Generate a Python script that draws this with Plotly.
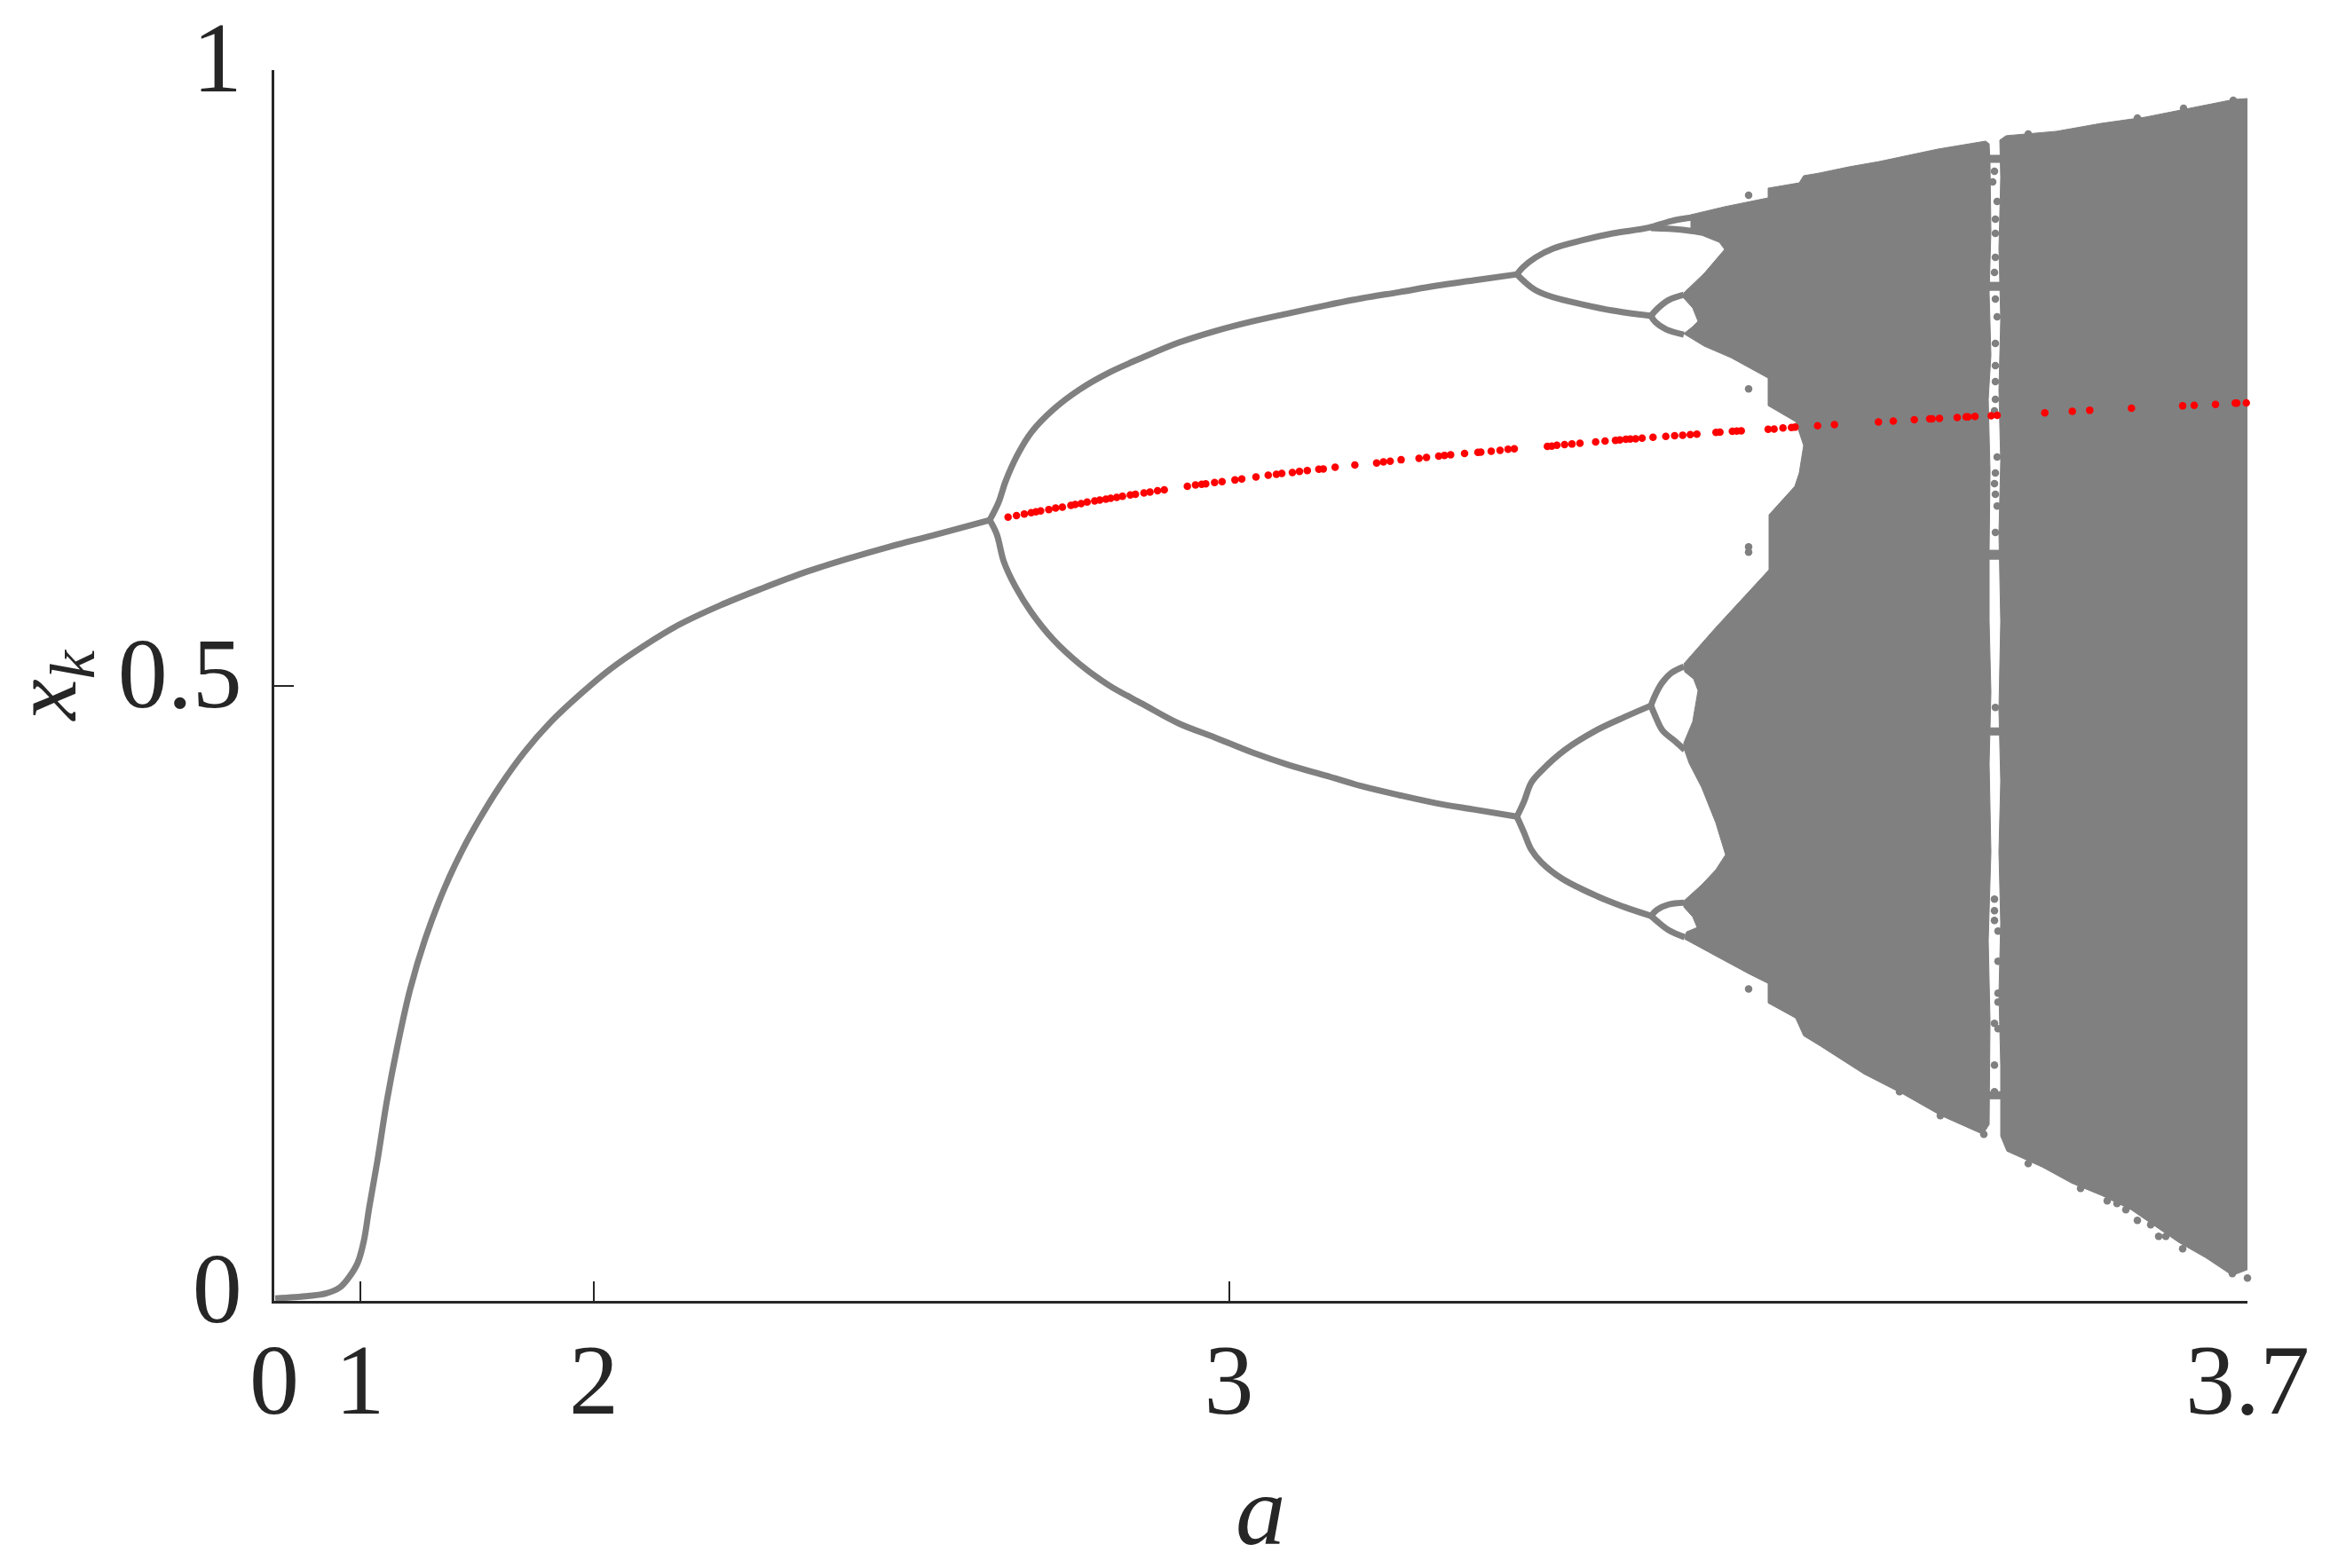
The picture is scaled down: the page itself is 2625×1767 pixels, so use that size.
import plotly.graph_objects as go

# Horizontal axis is warped in the source figure; u is the position along it.
tick_u = [0, 96.6, 360, 1075.5, 2223]
tick_a = ["0", "1", "2", "3", "3.7"]
tick_y = [0, 0.5, 1]
tick_y_text = ["0", "0.5", "1"]

main_u = [1, 38, 58, 74, 84, 94, 101, 107, 116, 127, 139, 153, 170, 191, 211, 230, 254, 282, 311, 345, 378, 416, 455, 502, 550, 598, 646, 694, 742, 806]
main_y = [.002, .004, .006, .011, .019, .031, .049, .076, .113, .163, .208, .253, .294, .334, .365, .390, .418, .446, .470, .493, .513, .532, .549, .565, .579, .592, .603, .613, .622, .6344]

arc_up_u = [806, 816, 824, 837, 853, 878, 907, 940, 978, 1019, 1060, 1102, 1143, 1185, 1226, 1268, 1309, 1351, 1400]
arc_up_y = [.6344, .6488, .6661, .6870, .7058, .7245, .7404, .7541, .7664, .7786, .7880, .7959, .8024, .8089, .8147, .8197, .8248, .8291, .8341]
arc_lo_u = [806, 814, 822, 835, 853, 878, 907, 940, 978, 1019, 1060, 1102, 1143, 1185, 1226, 1268, 1309, 1351, 1400]
arc_lo_y = [.6344, .6228, .6005, .5803, .5594, .5370, .5176, .5003, .4851, .4692, .4577, .4455, .4354, .4267, .4180, .4108, .4044, .3993, .3935]

p4a_u = [1400, 1407, 1421, 1441, 1474, 1508, 1548, 1574, 1598]
p4a_y = [.8341, .8399, .8478, .8551, .8618, .8673, .8719, .8774, .8803]
p4b_u = [1400, 1408, 1421, 1441, 1474, 1508, 1551]
p4b_y = [.8341, .8284, .8212, .8154, .8096, .8046, .8003]
p4c_u = [1400, 1408, 1416, 1428, 1454, 1491, 1521, 1551]
p4c_y = [.3935, .4058, .4209, .4310, .4476, .4642, .4743, .4837]
p4d_u = [1400, 1408, 1416, 1428, 1451, 1491, 1521, 1551]
p4d_y = [.3935, .3804, .3668, .3560, .3430, .3286, .3200, .3128]

p8a_u = [1551, 1584, 1608]
p8a_y = [.8716, .8704, .8681]
p8b_u = [1551, 1558, 1571, 1588]
p8b_y = [.8003, .8060, .8132, .8175]
p8c_u = [1551, 1556, 1568, 1588]
p8c_y = [.8003, .7952, .7894, .7851]
p8d_u = [1551, 1554, 1563, 1574, 1588]
p8d_y = [.4837, .4894, .5017, .5103, .5154]
p8e_u = [1551, 1556, 1564, 1578, 1589]
p8e_y = [.4837, .4750, .4635, .4548, .4476]
p8f_u = [1551, 1558, 1571, 1588]
p8f_y = [.3128, .3178, .3221, .3236]
p8g_u = [1551, 1558, 1571, 1589]
p8g_y = [.3128, .3084, .3012, .2955]

band_left_u = [1596, 1634, 1683, 1683, 1718, 1723, 1741, 1774, 1808, 1841, 1874, 1928, 1932,
               1933, 1934, 1932, 1934, 1931, 1933, 1932, 1932, 1934, 1932, 1934, 1931, 1933, 1932,
               1925, 1878, 1834, 1791, 1741, 1723, 1714, 1683, 1683, 1661, 1624, 1589,
               1591, 1603, 1598, 1588, 1588, 1608, 1624, 1635, 1624, 1608, 1594, 1588, 1588, 1598, 1604, 1599, 1589, 1588,
               1624, 1649, 1664, 1684, 1684, 1699, 1713, 1718, 1723, 1714, 1683, 1683, 1641, 1611, 1588,
               1598, 1604, 1598, 1588, 1588, 1611, 1634, 1628, 1608, 1596, 1596]
band_left_y = [.8825, .8890, .8962, .9041, .9084, .9142, .9164, .9214, .9257, .9308, .9358, .9423, .9401,
               .9236, .8695, .8190, .7685, .7325, .6748, .6099, .5522, .4945, .4368, .3647, .2926, .2277, .1433,
               .1354, .1505, .1685, .1844, .2075, .2154, .2298, .2421, .2580, .2659, .2803, .2940,
               .2998, .3034, .3120, .3200, .3250, .3380, .3503, .3625, .3885, .4173, .4368, .4491, .4534, .4707, .4959, .5053, .5111, .5176,
               .5471, .5666, .5789, .5940, .6387, .6510, .6618, .6726, .6950, .7144, .7274, .7498, .7664, .7757, .7858,
               .7916, .7959, .8067, .8147, .8190, .8349, .8543, .8601, .8659, .8681, .8825]

band_right_u = [1944, 1951, 2008, 2058, 2108, 2158, 2208, 2226, 2226, 2225, 2226, 2224,
                2206, 2176, 2146, 2092, 2059, 2025, 1992, 1952, 1945,
                1945, 1943, 1945, 1943, 1945, 1943, 1945, 1943, 1945, 1943, 1945, 1943, 1945, 1944]
band_right_y = [.9431, .9467, .9503, .9567, .9618, .9690, .9762, .9770, .6243, .3358, .0618, .0257,
                .0207, .0351, .0474, .0741, .0856, .0957, .1087, .1217, .1339,
                .1916, .2493, .3070, .3647, .4224, .4801, .5522, .6243, .6820, .7397, .7974, .8551, .9128, .9431]

bridge_u = [1931, 1945, 1945, 1931, None, 1931, 1945, 1945, 1931, None, 1931, 1945, 1945, 1931, None,
            1931, 1945, 1945, 1931, None, 1931, 1945, 1945, 1931]
bridge_y = [.9308, .9308, .9250, .9250, None, .8276, .8276, .8211, .8211, None, .6099, .6099, .6026, .6026, None,
            .4656, .4656, .4598, .4598, None, .1700, .1700, .1642, .1642]

stray_u = [1661, 1661, 1661, 1661, 1661,
           1976, 2035, 2099, 2123, 2150, 2223, 2206, 1831, 1877, 1926, 2086, 2065, 2076, 2131, 2114,
           1976, 2099, 2207, 2151,
           1938, 1936, 1941, 1939, 1939, 1939, 1938, 1939, 1941, 1939, 1939, 1939, 1939, 1938, 1941, 1939, 1938, 1939, 1941, 1939, 1939,
           1938, 1938, 1938, 1942, 1942, 1942, 1942, 1938, 1942, 1938, 1938]
stray_y = [.8983, .7410, .6127, .6084, .2535,
           .1116, .0914, .0654, .0524, .0423, .0185, .0221, .1700, .1505, .1354, .0741, .0813, .0791, .0524, .0618,
           .9481, .9611, .9755, .9690,
           .9178, .9091, .8933, .8788, .8673, .8478, .8356, .8140, .7995, .7779, .7599, .7469, .7325, .7231, .6856, .6726, .6640, .6553, .6459, .6243, .4822,
           .3265, .3171, .3091, .3005, .2760, .2500, .2428, .2255, .2212, .1916, .1700]

fixed_u = [826.7, 836.2, 845.0, 852.7, 858.1, 863.4, 872.6, 880.3, 887.9, 897.5, 902.4, 909.0, 915.8, 924.3, 930.0, 936.9, 942.3, 949.1, 955.6, 964.4, 970.2, 979.8, 986.6, 995.1, 1002.7,
           1028.7, 1037.9, 1044.8, 1049.4, 1059.4, 1067.8, 1082.3, 1090.0, 1106.0, 1119.8, 1129.0, 1135.1, 1147.0, 1155.0, 1163.8, 1176.8, 1181.8, 1195.2, 1217.4, 1241.9, 1249.6, 1257.2, 1269.5, 1289.7, 1298.1, 1311.9, 1318.4, 1325.3,
           1341, 1356, 1359.3, 1371, 1381, 1390, 1397, 1434.3, 1439.3, 1445, 1453.7, 1462, 1471, 1488.7, 1499.3, 1511, 1516, 1522.7, 1527.7, 1533.7, 1541, 1553.3, 1567.7, 1577.7, 1586.7, 1595.3, 1602.7, 1624.3, 1628.7, 1642.7, 1647.7, 1652.7,
           1683, 1689.7, 1699.7, 1709.3, 1713.3, 1738.7, 1757.7, 1807.3, 1824, 1847.7, 1865, 1867.7, 1876, 1896, 1906, 1908.3, 1916, 1934.3, 1941, 1994.7, 2025.7, 2045.3, 2092.3, 2150, 2163, 2187, 2209.3, 2211, 2221.7]
fixed_y = [.6368, .6380, .6394, .6404, .6411, .6418, .6430, .6442, .6449, .6464, .6471, .6478, .6490, .6500, .6507, .6514, .6521, .6529, .6538, .6548, .6553, .6565, .6572, .6582, .6589,
           .6618, .6630, .6634, .6639, .6649, .6656, .6670, .6678, .6695, .6709, .6716, .6723, .6731, .6740, .6747, .6757, .6759, .6774, .6791, .6808, .6817, .6822, .6834, .6846, .6853, .6863, .6870, .6875,
           .6885, .6895, .6897, .6904, .6911, .6919, .6923, .6943, .6945, .6952, .6957, .6962, .6969, .6979, .6986, .6991, .6995, .7000, .7003, .7005, .7010, .7017, .7024, .7029, .7034, .7039, .7043, .7056, .7058, .7065, .7068, .7070,
           .7082, .7084, .7092, .7096, .7099, .7111, .7120, .7142, .7149, .7159, .7166, .7166, .7171, .7178, .7183, .7183, .7187, .7192, .7195, .7216, .7228, .7236, .7253, .7272, .7277, .7284, .7294, .7294, .7296]

GREY = "#808080"
RED = "#ff0000"
INK = "#262626"
SERIF = "Liberation Serif"

fig = go.Figure()

for bu, by in [(band_left_u, band_left_y), (band_right_u, band_right_y), (bridge_u, bridge_y)]:
    fig.add_trace(go.Scatter(x=bu, y=by, mode="lines", fill="toself", fillcolor=GREY,
                             line=dict(color=GREY, width=1), cliponaxis=False, hoverinfo="skip"))

branches = [(main_u, main_y), (arc_up_u, arc_up_y), (arc_lo_u, arc_lo_y),
            (p4a_u, p4a_y), (p4b_u, p4b_y), (p4c_u, p4c_y), (p4d_u, p4d_y),
            (p8a_u, p8a_y), (p8b_u, p8b_y), (p8c_u, p8c_y), (p8d_u, p8d_y),
            (p8e_u, p8e_y), (p8f_u, p8f_y), (p8g_u, p8g_y)]
for bu, by in branches:
    fig.add_trace(go.Scatter(x=bu, y=by, mode="lines", cliponaxis=False, hoverinfo="skip",
                             line=dict(color=GREY, width=7, shape="spline", smoothing=1.0)))

fig.add_trace(go.Scatter(x=stray_u, y=stray_y, mode="markers", cliponaxis=False, hoverinfo="skip",
                         marker=dict(color=GREY, size=8.5, line=dict(width=0))))
fig.add_trace(go.Scatter(x=fixed_u, y=fixed_y, mode="markers", cliponaxis=False, hoverinfo="skip",
                         marker=dict(color=RED, size=8.5, line=dict(width=0))))

fig.update_layout(
    width=2625, height=1767, showlegend=False,
    paper_bgcolor="white", plot_bgcolor="white",
    margin=dict(l=309, r=93, t=79, b=301, pad=0),
    font=dict(family=SERIF, color=INK, size=112),
    xaxis=dict(range=[0, 2223], tickmode="array", tickvals=tick_u, ticktext=tick_a,
               ticks="inside", ticklen=22, tickwidth=1.5, tickcolor=INK,
               showline=True, linewidth=2.5, linecolor=INK, showgrid=False, zeroline=False,
               layer="below traces", ticklabelstandoff=-10, automargin=False),
    yaxis=dict(range=[0, 1], tickmode="array", tickvals=tick_y, ticktext=tick_y_text,
               ticks="inside", ticklen=22, tickwidth=1.5, tickcolor=INK,
               showline=True, linewidth=2.5, linecolor=INK, showgrid=False, zeroline=False,
               layer="below traces", ticklabelstandoff=11, ticklabelshift=-15, automargin=False),
    annotations=[
        dict(text="<i>a</i>", xref="paper", yref="paper", x=0.5, y=0, xanchor="center", yanchor="middle",
             yshift=-235, showarrow=False, font=dict(size=113, family=SERIF, color=INK)),
        dict(text="<i>x</i><sub><i>k</i></sub>", xref="paper", yref="paper", x=0, y=0.5,
             xanchor="center", yanchor="middle", xshift=-252, yshift=0,
             textangle=-90, showarrow=False, font=dict(size=104, family=SERIF, color=INK)),
    ],
)

fig.write_html("out.html", post_script="document.body.style.margin='0';",
               config=dict(displayModeBar=False))
